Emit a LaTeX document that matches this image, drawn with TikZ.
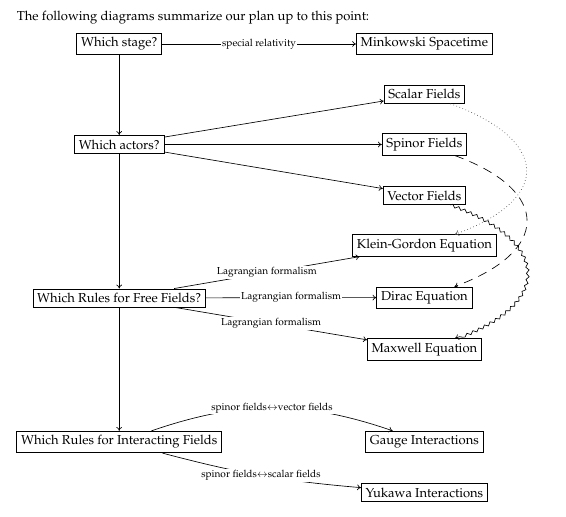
\documentclass[tikz,border=0pt]{standalone}
\usepackage[T1]{fontenc}
\usepackage{mathpazo}
\usetikzlibrary{arrows.meta,decorations.pathmorphing}
\begin{document}
\begin{tikzpicture}[x=0.77pt,y=0.77pt,
  box/.style={draw, line width=0.5pt, inner sep=3.3pt, font=\fontsize{10}{12}\selectfont},
  lab/.style={fill=white, inner sep=1pt, font=\fontsize{7.8}{9}\selectfont},
  arr/.style={line width=0.5pt, -{To[length=3pt,width=4.4pt]}},
  wavy/.style={decorate, decoration={snake, amplitude=1.1pt, segment length=5pt, post length=3pt}}]
\useasboundingbox (0,0) rectangle (566,517);
\node[anchor=base west, inner sep=0, font=\fontsize{10}{12}\selectfont] (title) at (16.7,496.5) {The following diagrams summarize our plan up to this point:};
\node[box] (stage) at (119.2,473) {Which stage?};
\node[box] (mink) at (424.4,473) {Minkowski Spacetime};
\node[box] (scalar) at (424.4,422.7) {Scalar Fields};
\node[box] (actors) at (119.2,372.5) {Which actors?};
\node[box] (spinor) at (424.4,372.5) {Spinor Fields};
\node[box] (vector) at (424.4,321.5) {Vector Fields};
\node[box] (kg) at (424.4,271.5) {Klein-Gordon Equation};
\node[box] (free) at (119.2,219) {Which Rules for Free Fields?};
\node[box] (dirac) at (424.4,219.5) {Dirac Equation};
\node[box] (maxwell) at (424.4,167.5) {Maxwell Equation};
\node[box] (inter) at (119.2,75) {Which Rules for Interacting Fields};
\node[box] (gauge) at (424.4,75.3) {Gauge Interactions};
\node[box] (yukawa) at (424.4,24.5) {Yukawa Interactions};

\draw[arr] (stage) -- node[lab] {special relativity} (mink);
\draw[arr] (stage) -- (actors);
\draw[arr] (actors) -- (scalar);
\draw[arr] (actors) -- (spinor);
\draw[arr] (actors) -- (vector);
\draw[arr] (actors) -- (free);
\draw[arr] (free) -- (inter);
\draw[arr] (free) -- node[lab] {Lagrangian formalism} (kg);
\draw[arr] (free) -- node[lab] {Lagrangian formalism} (dirac);
\draw[arr] (free) -- node[lab] {Lagrangian formalism} (maxwell);
\draw[arr] (inter) to[bend left=19] node[lab] {spinor fields$\leftrightarrow$vector fields} (gauge);
\draw[arr] (inter) to[bend right=5] node[lab] {spinor fields$\leftrightarrow$scalar fields} (yukawa);
\draw[arr, dotted, draw=black!70] (scalar) to[out=-20,in=20,looseness=2.05] (kg);
\draw[arr, dash pattern=on 7pt off 5pt] (spinor) to[out=-20,in=20,looseness=2.0] (dirac);
\draw[arr, wavy] (vector) to[out=-20,in=20,looseness=2.0] (maxwell);
\end{tikzpicture}
\end{document}
